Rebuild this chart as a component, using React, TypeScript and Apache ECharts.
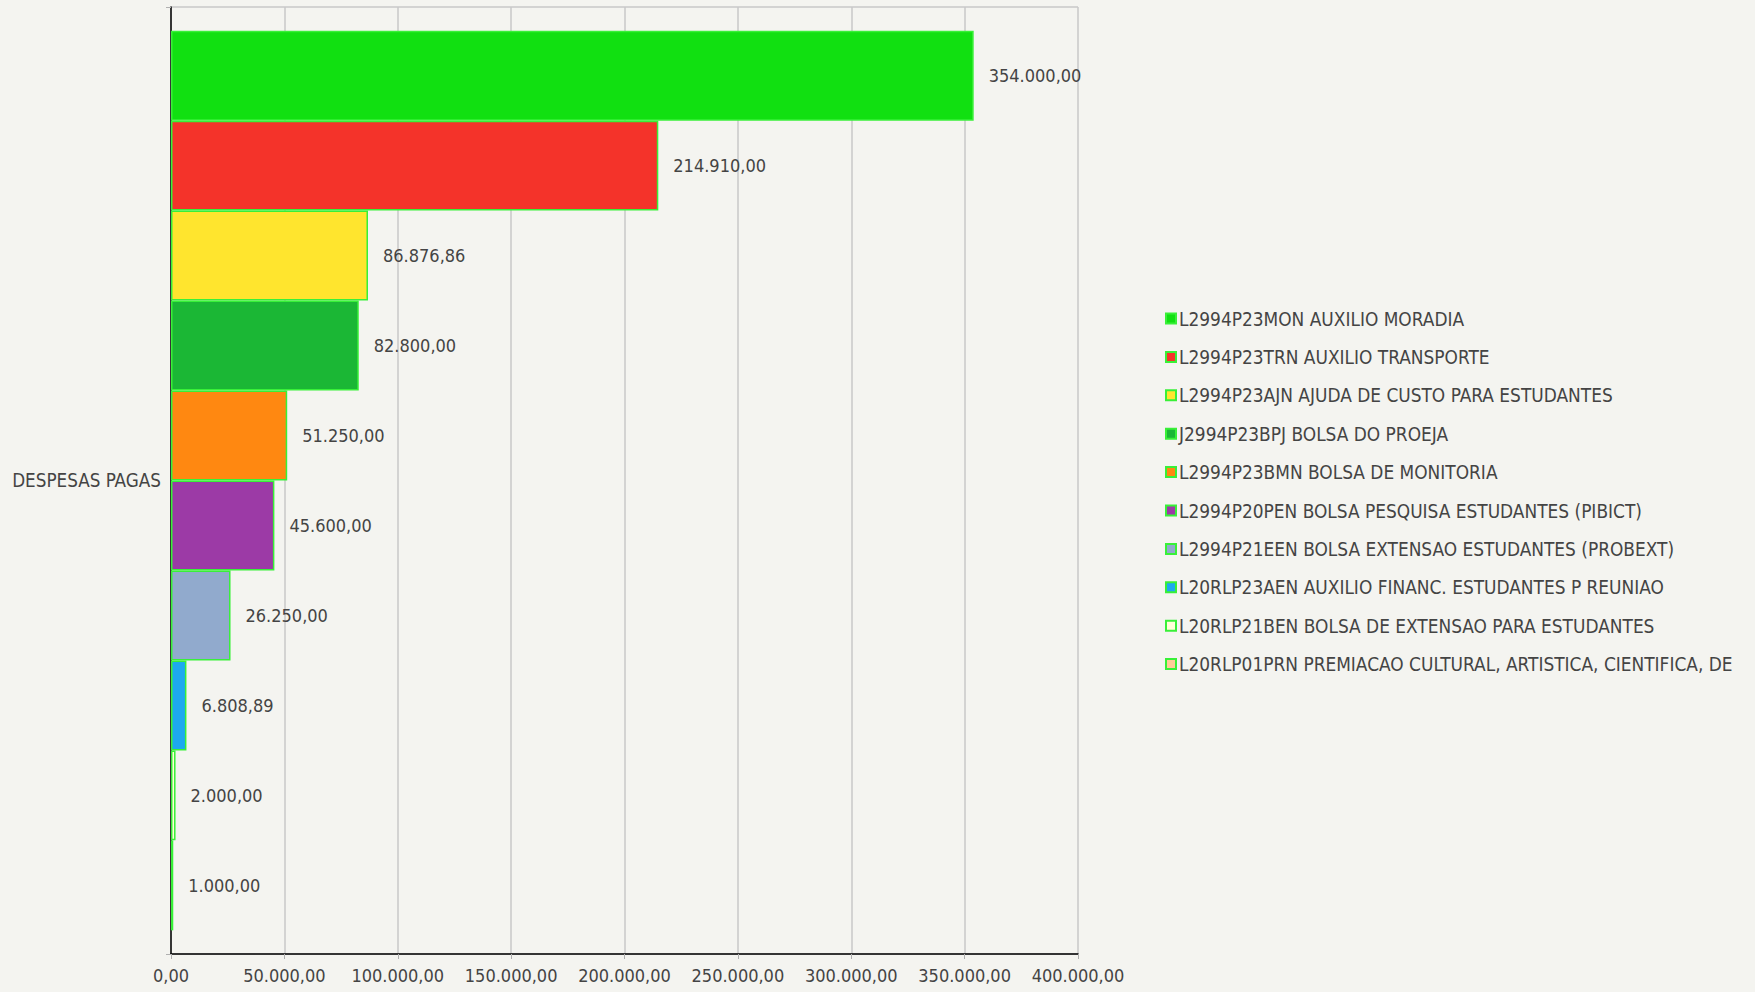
import React, { useEffect, useRef } from "react";
import * as echarts from "echarts";

const categories = ["DESPESAS PAGAS"];
const seriesNames = [
  "L2994P23MON AUXILIO MORADIA",
  "L2994P23TRN AUXILIO TRANSPORTE",
  "L2994P23AJN AJUDA DE CUSTO PARA ESTUDANTES",
  "J2994P23BPJ BOLSA DO PROEJA",
  "L2994P23BMN BOLSA DE MONITORIA",
  "L2994P20PEN BOLSA PESQUISA ESTUDANTES (PIBICT)",
  "L2994P21EEN BOLSA EXTENSAO ESTUDANTES (PROBEXT)",
  "L20RLP23AEN AUXILIO FINANC. ESTUDANTES P REUNIAO",
  "L20RLP21BEN BOLSA DE EXTENSAO PARA ESTUDANTES",
  "L20RLP01PRN PREMIACAO CULTURAL, ARTISTICA, CIENTIFICA, DE",
];
const seriesValues = [354000, 214910, 86876.86, 82800, 51250, 45600, 26250, 6808.89, 2000, 1000];
const seriesColors = [
  "#11e011", "#f4332a", "#ffe52e", "#1bb735", "#ff8811",
  "#9c3aa6", "#91aacd", "#1da9ef", "#ffffd8", "#ffcc99",
];
const xTicks = { min: 0, max: 400000, interval: 50000 };

const FONT = "'DejaVu Sans Condensed', 'DejaVu Sans', sans-serif";
const TEXT = "#444444";
const BORDER = "#38f038";

function fmt(v: number): string {
  const fixed = Math.abs(v).toFixed(2);
  const [intPart, dec] = fixed.split(".");
  const withDots = intPart.replace(/\B(?=(\d{3})+(?!\d))/g, ".");
  return (v < 0 ? "-" : "") + withDots + "," + dec;
}

export default function App() {
  const ref = useRef<HTMLDivElement>(null);
  useEffect(() => {
    document.body.style.margin = "0";
    document.body.style.background = "#f4f4f0";
    const chart = echarts.init(ref.current!, null, { renderer: "svg" });
    chart.setOption({
      animation: false,
      backgroundColor: "#f4f4f0",
      textStyle: { fontFamily: FONT },
      grid: { left: 171, right: 677, top: 7, bottom: 38, containLabel: false },
      legend: {
        orient: "vertical",
        left: 1165,
        top: 309,
        padding: 0,
        itemWidth: 10,
        itemHeight: 10,
        itemGap: 19.4,
        icon: "rect",
        data: seriesNames,
        textStyle: { fontFamily: FONT, fontSize: 18.9, color: TEXT, lineHeight: 18, padding: [0, 0, 0, -2] },
      },
      xAxis: {
        type: "value",
        min: xTicks.min,
        max: xTicks.max,
        interval: xTicks.interval,
        axisLine: { show: true, lineStyle: { color: "#000000", width: 1.5 } },
        axisTick: { show: true, length: 5, lineStyle: { color: "#b0b0b0" } },
        splitLine: { show: true, lineStyle: { color: "#c8c8c8", width: 1.5 } },
        axisLabel: {
          fontFamily: FONT,
          fontSize: 18,
          color: TEXT,
          margin: 12,
          formatter: (v: number) => fmt(v),
        },
      },
      yAxis: {
        type: "category",
        data: categories,
        axisLine: { show: true, lineStyle: { color: "#000000", width: 1.5 } },
        axisTick: { show: true, length: 5, lineStyle: { color: "#b0b0b0" } },
        splitLine: { show: true, lineStyle: { color: "#c8c8c8", width: 1.5 } },
        axisLabel: { fontFamily: FONT, fontSize: 18.7, color: TEXT, margin: 10 },
      },
      series: seriesNames.map((name, i) => ({
        type: "bar",
        name,
        data: [seriesValues[i]],
        barGap: "0%",
        barCategoryGap: "5%",
        itemStyle: { color: seriesColors[i], borderColor: BORDER, borderWidth: 1.5 },
        label: {
          show: true,
          position: "right",
          distance: 15,
          fontFamily: FONT,
          fontSize: 18,
          color: TEXT,
          formatter: (p: any) => fmt(p.value),
        },
      })),
    });
    return () => chart.dispose();
  }, []);
  return <div ref={ref} style={{ width: 1755, height: 992 }} />;
}
